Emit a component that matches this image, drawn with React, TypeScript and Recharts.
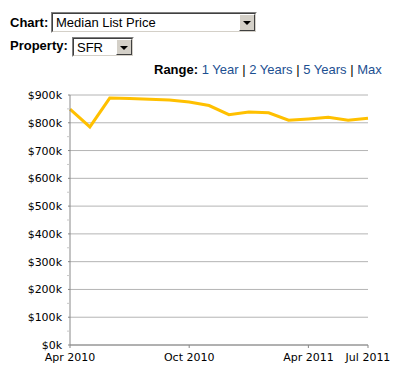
import React from 'react';
import { LineChart, Line, XAxis, YAxis, CartesianGrid } from 'recharts';

// monthly median list price, Apr 2010 - Jul 2011
const months = [
  'Apr 2010', 'May 2010', 'Jun 2010', 'Jul 2010', 'Aug 2010', 'Sep 2010',
  'Oct 2010', 'Nov 2010', 'Dec 2010', 'Jan 2011', 'Feb 2011', 'Mar 2011',
  'Apr 2011', 'May 2011', 'Jun 2011', 'Jul 2011',
];
const prices = [
  849000, 785000, 889000, 887000, 885000, 882000,
  875000, 862000, 829000, 839000, 836000, 809000,
  814000, 820000, 809000, 816000,
];
const xTicks = [0, 6, 12, 15];
const yTicks = [
  0, 50000, 100000, 150000, 200000, 250000, 300000, 350000, 400000, 450000,
  500000, 550000, 600000, 650000, 700000, 750000, 800000, 850000, 900000,
];
const rangeLinks = ['1 Year', '2 Years', '5 Years', 'Max'];

const data = prices.map((price, i) => ({ i, month: months[i], price }));
const majorTicks = yTicks.filter((v) => v % 100000 === 0);

const YTick = (props: any) => {
  const { x, y, payload } = props;
  const major = payload.value % 100000 === 0;
  return (
    <g>
      <line
        x1={x - (major ? 2 : 3)}
        x2={x}
        y1={y}
        y2={y}
        stroke={major ? '#888' : '#c8c8c8'}
      />
      {major && (
        <text x={x - 8} y={y} dy={4} textAnchor="end" fontSize={11} fill="#000">
          ${payload.value / 1000}k
        </text>
      )}
    </g>
  );
};

const FakeSelect = ({ left, top, width, height, text }: any) => (
  <div
    style={{
      position: 'absolute', left, top, width, height, boxSizing: 'border-box',
      borderTop: '1px solid #808080', borderLeft: '1px solid #808080',
      borderBottom: '1px solid #fff', borderRight: '1px solid #fff',
    }}
  >
    <div
      style={{
        position: 'absolute', inset: 0, background: '#fff',
        borderTop: '1px solid #404040', borderLeft: '1px solid #404040',
        borderBottom: '1px solid #d4d0c8', borderRight: '1px solid #d4d0c8',
      }}
    >
      <div
        style={{
          position: 'absolute', left: 3, top: 1, fontFamily: 'Arial, "Liberation Sans"',
          fontSize: 13, lineHeight: '15px', color: '#000', whiteSpace: 'nowrap',
        }}
      >
        {text}
      </div>
      <div
        style={{
          position: 'absolute', right: 0, top: 0, bottom: 0, width: 16,
          boxSizing: 'border-box', background: '#d4d0c8',
          borderTop: '1px solid #fff', borderLeft: '1px solid #fff',
          borderBottom: '1px solid #404040', borderRight: '1px solid #404040',
        }}
      >
        <div
          style={{
            position: 'absolute', left: 3, top: 6, width: 0, height: 0,
            borderLeft: '4px solid transparent', borderRight: '4px solid transparent',
            borderTop: '4px solid #000',
          }}
        />
      </div>
    </div>
  </div>
);

const labelStyle: React.CSSProperties = {
  position: 'absolute', left: 10, fontFamily: 'Arial, "Liberation Sans"',
  fontSize: 13, fontWeight: 'bold', lineHeight: '15px', color: '#000',
};

export default function App() {
  return (
    <div
      style={{
        position: 'absolute', left: 0, top: 0, width: 401, height: 377,
        background: '#fff', fontFamily: '"DejaVu Sans", Verdana, sans-serif',
      }}
    >
      <div style={{ ...labelStyle, top: 15 }}>Chart:</div>
      <FakeSelect left={51} top={12} width={206} height={21} text="Median List Price" />
      <div style={{ ...labelStyle, top: 38 }}>Property:</div>
      <FakeSelect left={72} top={37} width={62} height={20} text="SFR" />
      <div style={{ ...labelStyle, left: 154, top: 62, whiteSpace: 'nowrap' }}>
        Range:{' '}
        <span style={{ fontWeight: 'normal' }}>
          {rangeLinks.map((r, idx) => (
            <React.Fragment key={r}>
              {idx > 0 && ' | '}
              <span style={{ color: '#1c4f91' }}>{r}</span>
            </React.Fragment>
          ))}
        </span>
      </div>

      <div style={{ position: 'absolute', left: 0, top: 0 }}>
        <LineChart
          width={401}
          height={377}
          data={data}
          margin={{ top: 95, right: 33, bottom: 0, left: 0 }}
        >
          <CartesianGrid vertical={false} horizontalValues={majorTicks} stroke="#b4b4b4" />
          <XAxis
            dataKey="i"
            type="number"
            domain={[0, 15]}
            ticks={xTicks}
            tickFormatter={(v: number) => months[v]}
            height={32}
            tickSize={3}
            tickMargin={5}
            axisLine={{ stroke: '#888' }}
            tickLine={{ stroke: '#888' }}
            tick={{ fontSize: 11, fill: '#000' }}
            interval={0}
          />
          <YAxis
            type="number"
            domain={[0, 900000]}
            ticks={yTicks}
            width={70}
            tickSize={0}
            tickMargin={0}
            tickLine={false}
            axisLine={{ stroke: '#888' }}
            tick={<YTick />}
            interval={0}
          />
          <Line
            type="linear"
            dataKey="price"
            stroke="#ffc000"
            strokeWidth={3}
            dot={false}
            isAnimationActive={false}
          />
        </LineChart>
      </div>
    </div>
  );
}
